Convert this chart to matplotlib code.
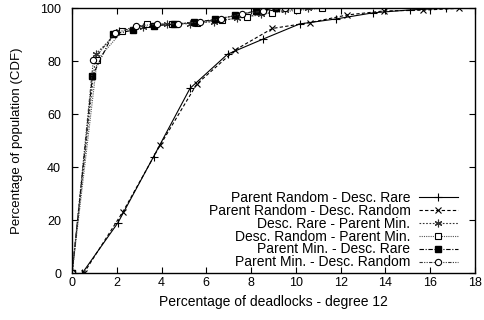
import numpy as np
import matplotlib
matplotlib.use('Agg')
import matplotlib.pyplot as plt

plt.rcParams['font.family'] = ['Liberation Sans', 'DejaVu Sans']

# Parent Random - Desc. Rare
rare_x = [0.45, 2.05, 3.64, 5.27, 6.95, 8.54, 10.17, 11.8, 13.45, 15.1, 16.7]
rare_y = [0, 19.1, 44.0, 69.8, 82.7, 88.4, 94.1, 96.0, 98.3, 99.4, 100]
# Parent Random - Desc. Random
rand_x = [0.52, 2.27, 3.94, 5.57, 7.29, 8.95, 10.62, 12.3, 13.93, 15.67, 17.3]
rand_y = [0, 23.2, 48.4, 71.4, 84.3, 92.4, 94.6, 97.5, 99.0, 99.3, 100]
# Desc. Rare - Parent Min.
drpm_x = [0, 1.06, 2.11, 3.17, 4.22, 5.28, 6.34, 7.39, 8.45, 9.5, 10.56]
drpm_y = [0, 82.8, 91.5, 93.0, 94.0, 94.2, 95.0, 96.3, 97.8, 99.2, 100]
# Desc. Random - Parent Min.
dnpm_x = [0, 1.12, 2.23, 3.35, 4.46, 5.58, 6.69, 7.81, 8.92, 10.04, 11.15]
dnpm_y = [0, 80.5, 91.3, 94.0, 94.0, 94.5, 95.5, 96.7, 98.3, 99.2, 100]
# Parent Min. - Desc. Rare
pmdr_x = [0, 0.91, 1.82, 2.74, 3.65, 4.56, 5.47, 6.38, 7.3, 8.21, 9.12]
pmdr_y = [0, 74.6, 90.2, 91.8, 93.4, 94.0, 94.7, 95.8, 97.3, 99.0, 100]
# Parent Min. - Desc. Random
pmdn_x = [0, 0.95, 1.9, 2.85, 3.8, 4.75, 5.7, 6.65, 7.6, 8.55, 9.5]
pmdn_y = [0, 80.5, 90.5, 93.3, 94.0, 94.2, 94.8, 96.0, 98.0, 98.9, 100]

labels = ['Parent Random - Desc. Rare', 'Parent Random - Desc. Random',
          'Desc. Rare - Parent Min.', 'Desc. Random - Parent Min.',
          'Parent Min. - Desc. Rare', 'Parent Min. - Desc. Random']

fig = plt.figure(figsize=(4.84, 3.2), dpi=100)
ax = fig.add_axes([0.149, 0.146, 0.832, 0.828])

lw = 0.8
ax.plot(rare_x, rare_y, color='black', lw=lw, ls='-', marker='+', ms=6, mew=0.8, label=labels[0])
ax.plot(rand_x, rand_y, color='black', lw=lw, ls=(0, (3, 2)), marker='x', ms=4.5, mew=0.8, label=labels[1])
ax.plot(drpm_x, drpm_y, color='#333333', lw=lw, ls=(0, (1.5, 1.5)), marker=(6, 2, 0), ms=5.5, mew=0.8, label=labels[2])
ax.plot(dnpm_x, dnpm_y, color='#555555', lw=lw, ls=(0, (1, 1)), marker='s', ms=4.5, mew=0.8,
        mfc='white', mec='black', label=labels[3])
ax.plot(pmdr_x, pmdr_y, color='black', lw=lw, ls=(0, (4, 1.5, 1, 1.5)), marker='s', ms=5,
        mfc='black', mec='black', label=labels[4])
ax.plot(pmdn_x, pmdn_y, color='#333333', lw=lw, ls=(0, (3, 1.2, 1, 1.2, 1, 1.2)), marker='o', ms=4.5,
        mfc='white', mec='black', mew=0.8, label=labels[5])

ax.set_xlim(0, 18)
ax.set_ylim(0, 100)
ax.set_xticks(np.arange(0, 19, 2))
ax.set_yticks(np.arange(0, 101, 20))
ax.tick_params(direction='in', top=True, right=True, labelsize=9, length=4, width=0.8)
ax.tick_params(axis='y', pad=8)
ax.tick_params(axis='x', pad=3)
for s in ax.spines.values():
    s.set_linewidth(1.0)

ax.set_xlabel('Percentage of deadlocks - degree 12', fontsize=10, labelpad=4)
ax.set_ylabel('Percentage of population (CDF)', fontsize=9.5, labelpad=12)

ax.legend(loc='lower right', bbox_to_anchor=(0.985, -0.027), frameon=False, markerfirst=False,
          fontsize=10, labelspacing=-0.08, handlelength=2.8, handletextpad=0.6, borderpad=0.3,
          handleheight=0.6)
for t in ax.get_legend().get_texts():
    t.set_ha('right')
ax.get_legend()._legend_box.align = 'right'

fig.savefig('out.png', dpi=100)
